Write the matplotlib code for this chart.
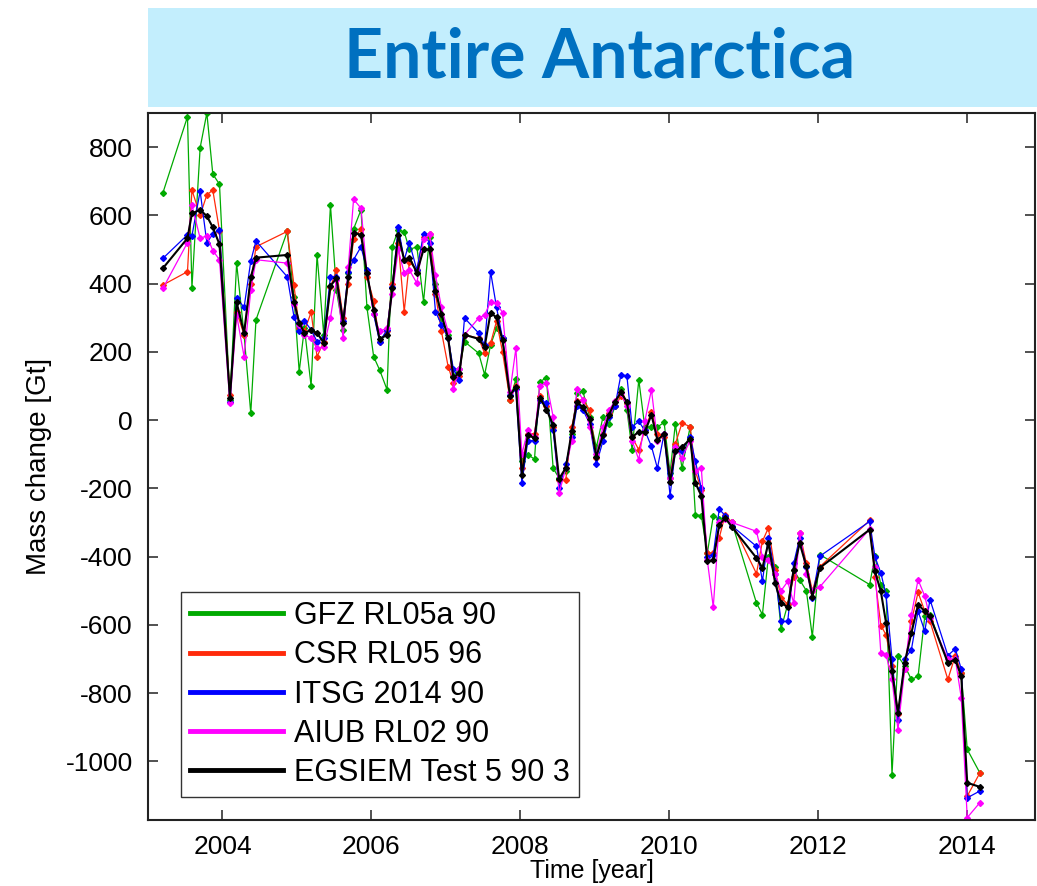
import matplotlib
matplotlib.use("Agg")
import matplotlib.pyplot as plt
from matplotlib.patches import Rectangle

plt.rcParams['font.family'] = ['Liberation Sans', 'DejaVu Sans']
plt.rcParams['axes.unicode_minus'] = False

# monthly solutions (decimal year) and mass change in Gt
t = [2003.20, 2003.53, 2003.59, 2003.70, 2003.79, 2003.87, 2003.96, 2004.10, 2004.19, 2004.29,
     2004.38, 2004.45, 2004.87, 2004.96, 2005.03, 2005.10, 2005.19, 2005.27, 2005.36, 2005.45,
     2005.53, 2005.62, 2005.69, 2005.76, 2005.86, 2005.94, 2006.03, 2006.11, 2006.21, 2006.28,
     2006.36, 2006.44, 2006.51, 2006.61, 2006.70, 2006.78, 2006.86, 2006.94, 2007.03, 2007.10,
     2007.18, 2007.25, 2007.44, 2007.52, 2007.60, 2007.68, 2007.76, 2007.86, 2007.94, 2008.02,
     2008.10, 2008.19, 2008.26, 2008.35, 2008.44, 2008.52, 2008.61, 2008.69, 2008.76, 2008.84,
     2008.93, 2009.02, 2009.11, 2009.19, 2009.27, 2009.35, 2009.43, 2009.50, 2009.59, 2009.67,
     2009.76, 2009.84, 2009.93, 2010.01, 2010.08, 2010.17, 2010.28, 2010.35, 2010.43, 2010.51,
     2010.59, 2010.67, 2010.75, 2010.84, 2011.17, 2011.25, 2011.33, 2011.42, 2011.50, 2011.59,
     2011.67, 2011.75, 2011.84, 2011.92, 2012.02, 2012.69, 2012.76, 2012.84, 2012.91, 2012.99,
     2013.07, 2013.16, 2013.25, 2013.34, 2013.43, 2013.50, 2013.74, 2013.84, 2013.92, 2014.00,
     2014.17]

gfz = [666, 889, 388, 798, 900, 721, 691, 60, 460, 250,
       20, 294, 553, 360, 142, 270, 100, 484, 250, 630,
       380, 264, 430, 560, 616, 330, 186, 147, 89, 508,
       557, 552, 500, 508, 347, 538, 400, 300, 250, 130,
       150, 230, 196, 133, 220, 270, 240, 60, 120, -120,
       -102, -114, 113, 123, -141, -170, -150, -40, 79, 84,
       10, -80, 10, -10, 40, 90, 30, -87, 118, -19,
       -20, -20, -7, -155, -12, -141, -19, -277, -280, -390,
       -282, -290, -285, -300, -536, -570, -400, -430, -612, -540,
       -440, -468, -500, -635, -394, -482, -399, -482, -500, -1039,
       -692, -720, -760, -751, -575, -570, -710, -700, -740, -965,
       -1034]

csr = [396, 435, 674, 600, 660, 674, 555, 75, 318, 250,
       400, 508, 553, 395, 270, 260, 316, 186, 230, 390,
       440, 300, 400, 530, 560, 420, 350, 230, 260, 400,
       520, 318, 464, 440, 538, 545, 370, 260, 157, 110,
       130, 250, 240, 196, 225, 290, 200, 60, 100, -140,
       -40, -40, 70, 40, -20, -175, -175, -20, 55, 60,
       30, -110, -40, 20, 40, 70, 50, -50, -87, -30,
       25, -40, -50, -170, -70, -9, -19, -150, -204, -389,
       -390, -345, -277, -300, -450, -355, -316, -440, -520, -540,
       -460, -331, -420, -500, -430, -294, -460, -602, -629, -720,
       -860, -730, -590, -505, -560, -590, -760, -690, -740, -1102,
       -1034]

itsg = [474, 543, 540, 671, 520, 545, 557, 52, 359, 330,
        466, 525, 420, 303, 260, 290, 265, 230, 240, 420,
        420, 290, 435, 470, 508, 440, 310, 230, 265, 390,
        565, 470, 520, 440, 545, 520, 318, 280, 240, 150,
        118, 299, 255, 220, 435, 330, 240, 75, 90, -185,
        -60, -60, 60, 50, -30, -200, -130, -50, 40, 30,
        -10, -130, -60, 10, 40, 133, 130, -20, -4, -30,
        -77, -141, -40, -222, -90, -90, -50, -121, -200, -400,
        -395, -261, -280, -310, -370, -472, -345, -450, -590, -590,
        -420, -345, -430, -520, -399, -297, -400, -448, -512, -700,
        -880, -700, -673, -560, -619, -526, -690, -670, -730, -1107,
        -1087]

aiub = [386, 520, 630, 533, 540, 497, 470, 49, 308, 186,
        380, 470, 460, 340, 280, 250, 240, 210, 215, 300,
        410, 240, 450, 647, 621, 430, 310, 260, 270, 370,
        500, 430, 440, 401, 530, 545, 425, 330, 260, 92,
        150, 250, 299, 308, 347, 343, 315, 82, 211, -100,
        -30, -50, 100, 110, 10, -215, -140, -60, 90, 60,
        -20, -100, -20, 30, 55, 80, 40, -60, -116, -4,
        89, -60, -40, -170, -80, -110, -60, -150, -141, -410,
        -548, -300, -290, -300, -326, -400, -410, -450, -500, -473,
        -536, -331, -450, -500, -489, -319, -430, -682, -687, -760,
        -907, -730, -570, -468, -516, -580, -700, -700, -814, -1165,
        -1121]

egsiem = [445, 533, 606, 616, 598, 565, 515, 66, 345, 255,
          418, 476, 484, 347, 286, 255, 264, 255, 227, 393,
          416, 284, 420, 549, 543, 430, 323, 237, 250, 386,
          543, 469, 476, 432, 500, 500, 379, 310, 240, 125,
          138, 250, 238, 215, 314, 301, 235, 72, 98, -160,
          -45, -52, 66, 31, -14, -172, -140, -33, 53, 38,
          4, -107, -43, 16, 54, 81, 54, -50, -34, -36,
          16, -58, -41, -180, -92, -79, -56, -184, -222, -414,
          -411, -307, -287, -313, -404, -433, -360, -477, -536, -548,
          -438, -360, -429, -517, -433, -321, -443, -502, -594, -736,
          -858, -711, -624, -541, -560, -575, -711, -702, -751, -1063,
          -1075]

series = [
    ("GFZ RL05a 90", gfz, "#00aa00"),
    ("CSR RL05 96", csr, "#ff2a0a"),
    ("ITSG 2014 90", itsg, "#0000ff"),
    ("AIUB RL02 90", aiub, "#ff00ff"),
    ("EGSIEM Test 5 90 3", egsiem, "#000000"),
]

fig = plt.figure(figsize=(10.37, 8.86), dpi=100)

# title banner
fig.patches.append(Rectangle((148 / 1037, 1 - 107 / 886), 1 - 148 / 1037, 99 / 886,
                             transform=fig.transFigure, facecolor="#c3eefd",
                             edgecolor="none", zorder=0))
fig.text(0.5786, 1 - 78 / 886, "Entire Antarctica", family="Lato", weight="bold",
         fontsize=49, color="#0070c0", ha="center", va="baseline")

ax = fig.add_axes([148 / 1037, 66 / 886, 887 / 1037, 707 / 886])

lines = []
for name, vals, col in series:
    lw = 1.5 if col == "#000000" else 0.9
    ax.plot(t, vals, color=col, lw=lw, marker="D", ms=3.0, mec=col, mfc=col)
    lines.append(plt.Line2D([], [], color=col, lw=3.5))

ax.set_xlim(2003.0, 2014.91)
ax.set_ylim(-1172, 900)
ax.set_xticks([2004, 2006, 2008, 2010, 2012, 2014])
ax.set_yticks([-1000, -800, -600, -400, -200, 0, 200, 400, 600, 800])
ax.tick_params(direction="in", length=7, width=1.2, top=True, right=True,
               labelsize=19, pad=11, colors="#333333", labelcolor="black")
for sp in ax.spines.values():
    sp.set_linewidth(1.5)
    sp.set_color("#222222")

ax.set_xlabel("Time [year]", fontsize=18)
ax.xaxis.set_label_coords(0.5006, -0.0555)
ax.set_ylabel("Mass change [Gt]", fontsize=20, labelpad=10)

leg = ax.legend(lines, [s[0] for s in series], loc="lower left",
                bbox_to_anchor=(0.0372, 0.0325), borderaxespad=0, fontsize=22,
                handlelength=3.05, handletextpad=0.36, labelspacing=0.3,
                borderpad=0.3, fancybox=False, framealpha=1)
leg.get_frame().set_edgecolor("#333333")
leg.get_frame().set_linewidth(1.0)

fig.savefig("out.png", dpi=100)
